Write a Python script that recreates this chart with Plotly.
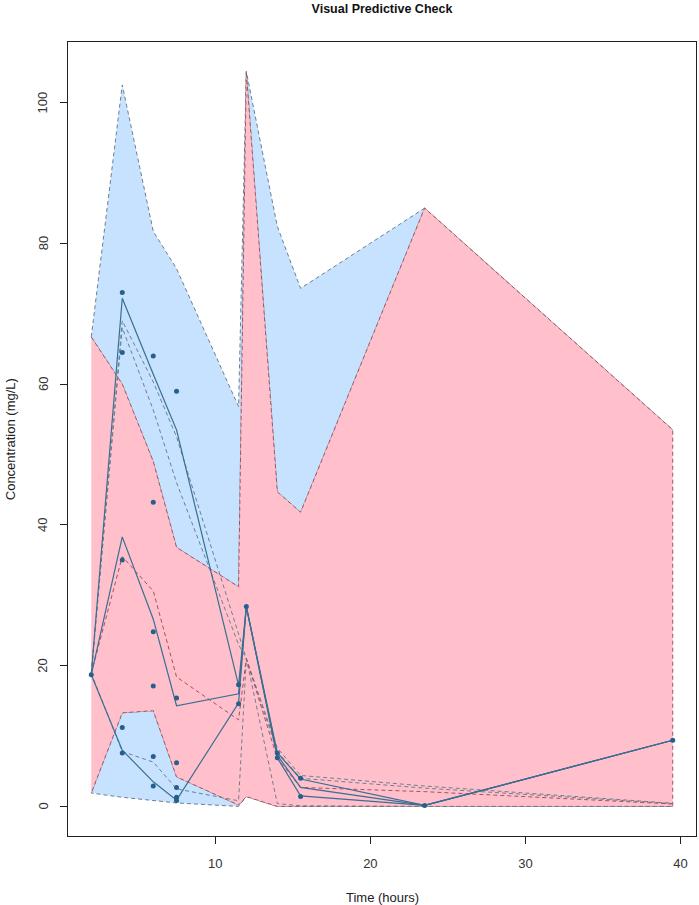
import plotly.graph_objects as go

# sampling times (hours)
times = [2, 4, 6, 7.5, 11.5, 12, 14, 15.5, 23.5, 39.5]

# 95% CI of simulated upper percentile (blue, upper band)
upper_ci_hi = [66.7, 102.5, 81.7, 76.4, 56.8, 104.4, 82.4, 73.6, 85.0, 53.5]
upper_ci_lo = [66.7, 60.0, 49.0, 36.8, 31.2, 104.4, 44.7, 41.8, 85.0, 53.5]

# 95% CI of simulated median (pink)
median_ci_hi = [66.7, 60.0, 49.0, 36.8, 31.2, 104.4, 44.7, 41.8, 85.0, 53.5]
median_ci_lo = [1.9, 13.3, 13.6, 4.2, 0.2, 1.4, 0.0, 0.0, 0.0, 0.0]

# 95% CI of simulated lower percentile (blue, lower band)
lower_ci_hi = [1.9, 13.3, 13.6, 4.2, 0.2, 1.4, 0.0, 0.0, 0.0, 0.0]
lower_ci_lo = [1.9, 1.3, 0.8, 0.5, 0.0, 1.4, 0.0, 0.0, 0.0, 0.0]

# medians of simulated percentiles (dashed)
sim_upper = [18.9, 69.0, 60.3, 52.5, 24.5, 21.0, 8.3, 4.4, 2.9, 0.45]
sim_upper2 = [18.9, 68.0, 56.3, 46.0, 23.0, 21.0, 7.8, 4.0, 2.6, 0.4]
sim_median = [18.9, 35.5, 30.6, 18.4, 12.3, 21.0, 6.8, 2.7, 2.1, 0.35]
sim_lower = [18.9, 7.8, 6.3, 2.5, 0.8, 21.0, 0.4, 0.1, 0.0, 0.0]

# observed percentiles / mean (solid)
obs_upper = [18.7, 72.2, 61.4, 53.5, 17.2, 28.4, 7.6, 3.9, 0.14, 9.4]
obs_mean = [18.7, 38.3, 26.6, 14.3, 16.0, 28.4, 7.25, 2.7, 0.14, 9.4]
obs_lower = [18.7, 8.0, 3.5, 0.9, 14.7, 28.4, 6.9, 1.5, 0.14, 9.4]

# observed concentrations
obs_time = [2, 4, 4, 4, 4, 4, 6, 6, 6, 6, 6, 6, 7.5, 7.5, 7.5, 7.5, 7.5, 7.5,
            11.5, 11.5, 12, 14, 14, 15.5, 15.5, 23.5, 39.5]
obs_conc = [18.7, 73.0, 64.5, 35.0, 11.2, 7.6, 64.0, 43.2, 24.8, 17.1, 7.1, 2.9,
            59.0, 15.4, 6.2, 2.7, 1.3, 0.85, 17.3, 14.6, 28.4, 7.6, 6.9, 4.0, 1.4,
            0.14, 9.4]

x_ticks = [10, 20, 30, 40]
y_ticks = [0, 20, 40, 60, 80, 100]

blue_fill = "#C6E2FF"
pink_fill = "#FFC0CB"
grey_dash = "#6F7F8F"
red_dash = "#A5505E"
obs_color = "#25608C"
font = "Liberation Sans, Arial, sans-serif"


def band(hi, lo, fill, edge):
    return go.Scatter(
        x=times + times[::-1],
        y=hi + lo[::-1],
        fill="toself",
        fillcolor=fill,
        mode="lines",
        line=dict(color=edge, width=1, dash="4px,3px"),
        hoverinfo="skip",
        showlegend=False,
    )


fig = go.Figure()

# bands: blue first, pink on top
fig.add_trace(band(upper_ci_hi, upper_ci_lo, blue_fill, grey_dash))
fig.add_trace(band(lower_ci_hi, lower_ci_lo, blue_fill, grey_dash))
fig.add_trace(band(median_ci_hi, median_ci_lo, pink_fill, red_dash))

# simulated medians
for ys, col in [
    (sim_upper, grey_dash),
    (sim_upper2, grey_dash),
    (sim_lower, grey_dash),
    (sim_median, red_dash),
]:
    fig.add_trace(
        go.Scatter(
            x=times,
            y=ys,
            mode="lines",
            line=dict(color=col, width=1, dash="4px,3px"),
            showlegend=False,
        )
    )

# observed lines
for ys in [obs_upper, obs_mean, obs_lower]:
    fig.add_trace(
        go.Scatter(
            x=times,
            y=ys,
            mode="lines",
            line=dict(color="#3A6E92", width=1.2),
            showlegend=False,
        )
    )

fig.add_trace(
    go.Scatter(
        x=obs_time,
        y=obs_conc,
        mode="markers",
        marker=dict(color=obs_color, size=5),
        showlegend=False,
    )
)

axis_common = dict(
    showline=True,
    mirror=True,
    linecolor="#222222",
    linewidth=1,
    ticks="outside",
    ticklen=7,
    tickcolor="#222222",
    showgrid=False,
    zeroline=False,
    tickfont=dict(family=font, size=13, color="#333333"),
)

fig.update_xaxes(range=[0.5, 41.0], tickvals=x_ticks, ticklabelstandoff=8, **axis_common)
# y tick labels are drawn as rotated annotations (R style)
fig.update_yaxes(range=[-4.2, 108.6], tickvals=y_ticks, showticklabels=False, **axis_common)

annotations = [
    dict(
        text=str(v),
        x=0,
        y=v,
        xref="paper",
        yref="y",
        xshift=-25,
        showarrow=False,
        textangle=-90,
        xanchor="center",
        yanchor="middle",
        font=dict(family=font, size=13, color="#333333"),
    )
    for v in y_ticks
]
annotations += [
    dict(
        text="Time (hours)",
        x=0.5,
        y=-0.077,
        xref="paper",
        yref="paper",
        showarrow=False,
        yanchor="middle",
        font=dict(family=font, size=13, color="#222222"),
    ),
    dict(
        text="Concentration (mg/L)",
        x=-0.092,
        y=0.5,
        xref="paper",
        yref="paper",
        showarrow=False,
        textangle=-90,
        xanchor="center",
        font=dict(family=font, size=13, color="#222222"),
    ),
]

fig.update_layout(
    width=699,
    height=905,
    autosize=False,
    margin=dict(l=68, r=3, t=42, b=69),
    plot_bgcolor="white",
    paper_bgcolor="white",
    title=dict(
        text="<b>Visual Predictive Check</b>",
        x=0.5,
        xref="paper",
        y=1 - 9 / 905,
        yref="container",
        yanchor="middle",
        font=dict(family=font, size=12.5, color="#111111"),
    ),
    annotations=annotations,
)

# drop the browser's default body margin so the figure sits at the page corner
fig.write_html(
    "out.html",
    config={"displayModeBar": False},
    post_script="document.body.style.margin='0px';",
)
